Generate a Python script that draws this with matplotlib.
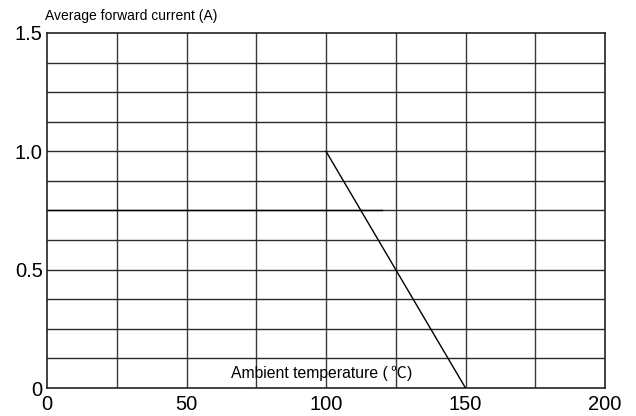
import matplotlib
matplotlib.use('Agg')
from matplotlib import pyplot as plt

plt.rcParams['font.family'] = ['Liberation Sans', 'Noto Sans CJK SC', 'DejaVu Sans']

# derating curve
temp = [100, 150]
current = [1.0, 0.0]

x_ticks = [0, 50, 100, 150, 200]
y_ticks = [0, 0.5, 1.0, 1.5]
y_tick_labels = ["0", "0.5", "1.0", "1.5"]

x_grid = [25, 50, 75, 100, 125, 150, 175]
y_grid = [i * 0.125 for i in range(1, 12)]

fig = plt.figure(figsize=(6.36, 4.16), dpi=100)
ax = fig.add_axes([0.0739, 0.0673, 0.8774, 0.8534])

for x in x_grid:
    ax.axvline(x, color='#3a3a3a', lw=1.0, zorder=1)
for y in y_grid:
    ax.axhline(y, color='#2a2a2a', lw=1.0, zorder=1)
# slightly darker segment on the 0.75 line
ax.plot([0, 120], [0.75, 0.75], color='black', lw=1.0, zorder=2)

ax.plot(temp, current, color='black', lw=1.0, zorder=3)

ax.set_xlim(0, 200)
ax.set_ylim(0, 1.5)
ax.set_xticks(x_ticks)
ax.set_yticks(y_ticks)
ax.set_yticklabels(y_tick_labels)
ax.tick_params(length=0, labelsize=14.5)
ax.tick_params(axis='x', pad=5)
ax.tick_params(axis='y', pad=3)
for s in ax.spines.values():
    s.set_color('#222222')
    s.set_linewidth(1.2)

fig.text(0.0708, 0.962, "Average forward current (A)", fontsize=10, va='center', ha='left')

# axis label sits inside the plot, degree sign from the CJK font
ax.text(65.9, 0.063, "Ambient temperature (", fontsize=11.3, ha='left', va='center')
ax.text(123.0, 0.063, "℃", fontsize=11.3, ha='left', va='center', family=['Noto Sans CJK SC'])
ax.text(129.0, 0.063, ")", fontsize=11.3, ha='left', va='center')

plt.savefig('out.png', dpi=100)
